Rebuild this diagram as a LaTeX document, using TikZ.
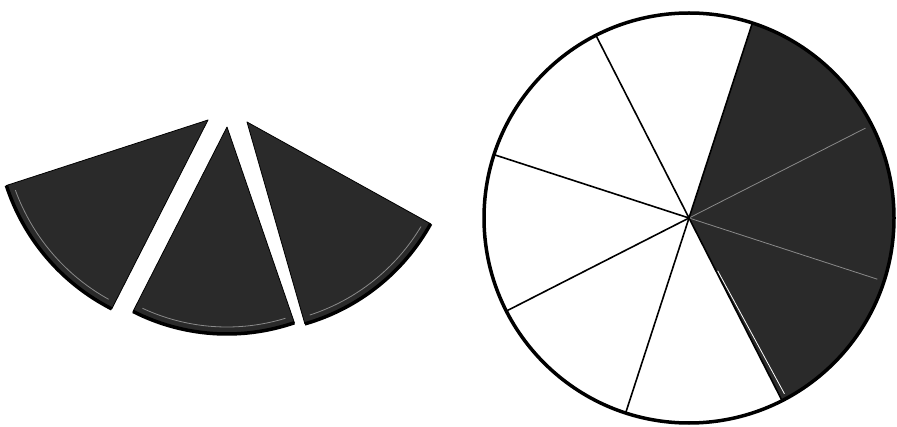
\documentclass[tikz,border=0pt]{standalone}
\usetikzlibrary{positioning,calc}
\definecolor{soot}{HTML}{2A2A2A}
\definecolor{ash}{HTML}{8A8A8A}

\begin{document}
\begin{tikzpicture}[x=1pt,y=1pt,
  piece/.style={fill=soot,draw=black,line width=0.8pt,line join=round},
  rim/.style={draw=black,line width=3.5pt},
  glint/.style={draw=ash,line width=0.8pt},
  spoke/.style={draw=black,line width=1.6pt}]
\useasboundingbox (0,0) rectangle (897,426);
% three cut-out pieces
\coordinate (pl) at (208,306);
\coordinate (pm) at (227,299);
\coordinate (pr) at (247,304);
\foreach \p/\s/\e/\r in {pl/198/243/212, pm/243/289/207, pr/286/331/210} {
  \filldraw[piece] (\p) -- ++(\s:\r) arc[start angle=\s,end angle=\e,radius=\r] -- cycle;
  \draw[glint] ($(\p)+(\s+2:\r-7)$) arc[start angle=\s+2,end angle=\e-2,radius=\r-7];
  \draw[rim] ($(\p)+(\s:\r)$) arc[start angle=\s,end angle=\e,radius=\r];
}
% the whole disc
\coordinate (o) at (689,208);
\fill[soot] (o) -- ++(-63:205) arc[start angle=-63,end angle=72,radius=205] -- cycle;
\foreach \a in {27,-18}
  \draw[glint] (o) -- ++(\a:198);
\foreach \a in {72,117,...,297}
  \draw[spoke] (o) -- ++(\a:205);
\draw[draw=white,line width=0.8pt] ($(o)+(-61.5:60)$) -- ($(o)+(-61.5:200)$);
\draw[rim] (o) circle[radius=205];
\end{tikzpicture}
\end{document}
